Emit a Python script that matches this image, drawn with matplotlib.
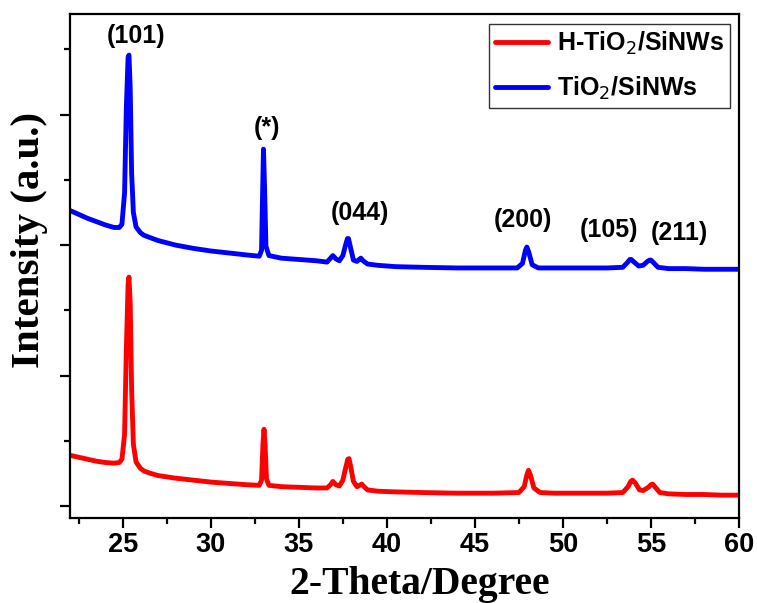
import matplotlib
matplotlib.use("Agg")
import matplotlib.pyplot as plt
from matplotlib.ticker import MultipleLocator, NullFormatter

# XRD patterns (2-theta in degrees, intensity in arbitrary units, offset stacked)
h_tio2_x = [22.0, 22.5, 23.0, 23.5, 24.0, 24.5, 24.8, 24.95, 25.1, 25.2, 25.3, 25.35,
            25.42, 25.5, 25.6, 25.75, 26.0, 26.2, 26.5, 27.0, 28.0, 29.0, 30.0, 31.0,
            32.0, 32.75, 32.88, 32.96, 33.02, 33.08, 33.16, 33.3, 34.0, 35.0, 36.0,
            36.6, 36.8, 36.93, 37.1, 37.3, 37.5, 37.65, 37.78, 37.85, 37.95, 38.1,
            38.3, 38.45, 38.57, 38.7, 38.9, 39.5, 40.5, 42.0, 44.0, 46.0, 47.5, 47.8,
            47.95, 48.04, 48.15, 48.35, 48.7, 49.5, 51.0, 52.5, 53.4, 53.7, 53.85,
            53.95, 54.1, 54.35, 54.55, 54.85, 55.0, 55.09, 55.25, 55.5, 56.0, 57.0,
            58.0, 59.0, 60.0]
h_tio2_y = [0.78, 0.75, 0.72, 0.69, 0.67, 0.66, 0.67, 0.72, 1.10, 2.40, 3.40, 3.51,
            3.10, 1.80, 0.95, 0.68, 0.58, 0.54, 0.51, 0.47, 0.43, 0.40, 0.37, 0.35,
            0.33, 0.32, 0.40, 0.95, 1.18, 0.95, 0.42, 0.32, 0.30, 0.29, 0.28,
            0.28, 0.33, 0.38, 0.33, 0.31, 0.40, 0.58, 0.72, 0.73, 0.60, 0.38,
            0.30, 0.32, 0.34, 0.30, 0.25, 0.23, 0.22, 0.21, 0.20, 0.20, 0.21, 0.30,
            0.48, 0.55, 0.48, 0.28, 0.21, 0.20, 0.20, 0.20, 0.21, 0.30, 0.38,
            0.40, 0.36, 0.25, 0.24, 0.29, 0.33, 0.34, 0.29, 0.21, 0.19, 0.18,
            0.18, 0.17, 0.17]

tio2_x = [22.0, 22.5, 23.0, 23.5, 24.0, 24.5, 24.8, 24.95, 25.1, 25.2, 25.3, 25.35,
          25.42, 25.5, 25.6, 25.75, 26.0, 26.2, 26.5, 27.0, 28.0, 29.0, 30.0, 31.0,
          32.0, 32.75, 32.88, 32.94, 32.99, 33.05, 33.13, 33.3, 34.0, 35.0, 36.0,
          36.6, 36.8, 36.93, 37.1, 37.3, 37.5, 37.65, 37.76, 37.82, 37.92, 38.1,
          38.3, 38.42, 38.52, 38.65, 38.9, 39.5, 40.5, 42.0, 44.0, 46.0, 47.4, 47.7,
          47.87, 47.95, 48.05, 48.25, 48.6, 49.5, 51.0, 52.5, 53.4, 53.65, 53.8,
          53.88, 54.0, 54.3, 54.55, 54.8, 54.92, 55.0, 55.15, 55.4, 56.0, 57.0,
          58.0, 59.0, 60.0]
tio2_y = [4.53, 4.47, 4.41, 4.36, 4.31, 4.27, 4.27, 4.32, 4.80, 6.10, 6.88, 6.91,
          6.40, 5.10, 4.50, 4.28, 4.19, 4.15, 4.12, 4.07, 4.00, 3.95, 3.91, 3.88,
          3.85, 3.83, 3.92, 4.80, 5.47, 4.90, 3.98, 3.84, 3.80, 3.78, 3.76,
          3.74, 3.80, 3.84, 3.79, 3.76, 3.84, 4.00, 4.10, 4.10, 3.98, 3.77,
          3.75, 3.78, 3.80, 3.76, 3.71, 3.69, 3.67, 3.66, 3.65, 3.65, 3.65, 3.72,
          3.92, 3.97, 3.90, 3.70, 3.65, 3.65, 3.65, 3.65, 3.66, 3.73, 3.78,
          3.78, 3.75, 3.68, 3.69, 3.75, 3.77, 3.77, 3.73, 3.66, 3.64, 3.64,
          3.63, 3.63, 3.63]

series_labels = ["H-TiO$_2$/SiNWs", "TiO$_2$/SiNWs"]
series_colors = ["#ff0000", "#0000ff"]

# Miller index labels placed above the TiO2/SiNWs peaks
peak_labels = ["(101)", "(*)", "(044)", "(200)", "(105)", "(211)"]
peak_label_x = [25.75, 33.19, 38.48, 47.74, 52.63, 56.6]
peak_label_y = [7.21, 5.79, 4.49, 4.38, 4.23, 4.18]

sans = "Liberation Sans"
serif = "Liberation Serif"

fig = plt.figure(figsize=(7.57, 6.03), dpi=100)
ax = fig.add_axes([70 / 757, 1 - 518 / 603, 669 / 757, 504 / 603])

ax.plot(h_tio2_x, h_tio2_y, color=series_colors[0], lw=3.5,
        solid_joinstyle="round", solid_capstyle="round", label=series_labels[0])
ax.plot(tio2_x, tio2_y, color=series_colors[1], lw=3.5,
        solid_joinstyle="round", solid_capstyle="round", label=series_labels[1])

for txt, px, py in zip(peak_labels, peak_label_x, peak_label_y):
    ax.text(px, py, txt, ha="center", va="center", fontsize=18,
            fontweight="bold", family=sans)

ax.set_xlim(22, 60)
ax.set_ylim(-0.18, 7.54)
ax.xaxis.set_major_locator(MultipleLocator(5))
ax.xaxis.set_minor_locator(MultipleLocator(2.5))
ax.yaxis.set_major_locator(MultipleLocator(2))
ax.yaxis.set_minor_locator(MultipleLocator(1))
ax.yaxis.set_major_formatter(NullFormatter())

ax.tick_params(axis="both", which="major", direction="out", length=7, width=1.6,
               top=False, right=False)
ax.tick_params(axis="both", which="minor", direction="out", length=4, width=1.6,
               top=False, right=False)
ax.tick_params(axis="x", which="major", labelsize=19.5, pad=3)
for lab in ax.get_xticklabels():
    lab.set_fontweight("bold")
    lab.set_family(sans)

for sp in ax.spines.values():
    sp.set_linewidth(1.6)

ax.set_xlabel("2-Theta/Degree", fontsize=28.5, fontweight="bold", family=serif,
              va="center")
ax.set_ylabel("Intensity (a.u.)", fontsize=29.5, fontweight="bold", family=serif,
              va="center")
ax.xaxis.set_label_coords(0.523, -0.131)
ax.yaxis.set_label_coords(-0.06, 0.552)

leg = ax.legend(loc="upper right", bbox_to_anchor=(0.9865, 0.981), frameon=True,
                fancybox=False, edgecolor="black", handlelength=2.1,
                handletextpad=0.35, borderpad=0.25, borderaxespad=0.0,
                labelspacing=0.7,
                prop={"family": sans, "weight": "bold", "size": 18})
leg.get_frame().set_linewidth(1.0)

fig.savefig("out.png", dpi=100)
